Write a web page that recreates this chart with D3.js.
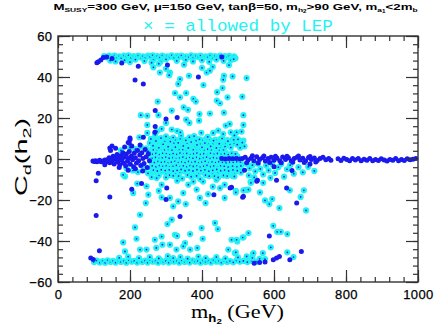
<!DOCTYPE html>
<html><head><meta charset="utf-8">
<script src="https://cdn.jsdelivr.net/npm/d3@7"></script>
<style>body{margin:0;background:#fff}svg{display:block}</style>
</head><body><svg id="c" width="437" height="332"></svg>
<script>
// ---------- DATA (m_h2 in GeV, C_d(h2)) ----------
const xTickLabels = [0, 200, 400, 600, 800, 1000];
const yTickLabels = [-60, -40, -20, 0, 20, 40, 60];

// points excluded by LEP (blue dots only)
const excludedLeft = [[97,-1],[101,-1.2],[104,-0.8],[108,-1.3],[112,-1],[116,-0.6],[120,-1.4],[126,-1],[130,-0.5],[134,-1.5],[138,-0.2],[142,0.6],[144,-1.8],[147,0.2],[150,-0.9],[153,1.4],[156,-2.4],[158,0.8],[161,-0.3],[164,2.2],[166,-1.5],[169,0.3],[172,-2.8],[174,1.6],[177,-0.6],[180,3.0],[182,-2],[185,0.9],[188,-3.3],[190,2.4],[193,-1.1],[196,0.4],[198,3.6],[201,-2.6],[204,1.5],[207,-0.4],[210,-3.8],[212,2.9],[215,0.6],[218,-1.9],[221,4.2],[224,-0.8],[227,1.9],[230,-3.2],[233,3.1],[236,0.2],[239,-2.2],[242,4.6],[245,1.1],[248,-4.1],[251,2.6],[254,-0.9],[146,4.1],[144,5.4],[150,6.3],[160,5.2],[130,-2.8],[112,-6.9],[170,-4.2],[195,-5.5],[215,-4.8],[235,-5.8],[185,5.8],[205,6.4],[228,6.8],[195,8],[200,10.2]];
const excludedBandRight = [[455,0.2],[465,0],[475,0.3],[485,0.1],[495,0.2],[505,0],[512,0.2],[520,0.9],[528,-0.5],[536,0.4],[544,-0.9],[552,1.1],[560,-0.3],[568,0.6],[576,-1.0],[584,0.2],[592,0.8],[600,-0.6],[608,0.5],[616,-0.8],[624,1.0],[632,-0.2],[640,0.6],[648,-0.9],[656,0.3],[664,0.9],[672,-0.5],[680,0.4],[688,-0.8],[696,0.7],[704,-0.2],[712,0.5],[720,-0.7],[728,0.3],[736,0.8],[744,-0.4],[752,0.2],[758,-0.6],[778,0.1],[786,-0.7],[794,0.4],[802,-0.3],[810,-0.9],[818,0.2],[826,-0.5],[834,0.3],[842,-0.8],[850,-0.1],[858,-0.6],[866,0.2],[874,-0.9],[882,-0.3],[890,-0.7],[898,0.1],[906,-0.5],[914,-1.0],[922,-0.2],[930,-0.6],[938,0.2],[946,-0.8],[954,-0.3],[962,-0.7],[970,0.1],[978,-0.4],[986,-0.1],[994,0.2],[524,-1.8],[540,1.6],[556,-1.9],[572,1.5],[588,-1.7],[604,1.4],[620,-1.8],[636,1.3],[652,-1.6],[668,1.5],[684,-1.7],[700,1.2],[716,-1.5]];
const excludedScatter = [[91,-48.3],[98,-49],[108,47.0],[112,47.5],[119,48.3],[126,49.5],[135,49.8],[150,49],[177,46.8],[223,45.2],[214,38.5],[237,36.6],[304,45.9],[390,40],[270,23.6],[300,19.5],[331,20.3],[270,15.8],[237,10.6],[200,9.5],[198,7.8],[269,13.1],[455,49.8],[106,-10.6],[144,-18.5],[106,-27.5],[115,-44.7],[205,-14.7],[232,-12],[339,-28.1],[302,-14.2],[300,-19.8],[433,-17.4],[482,-13.8],[513,-18.7],[552,-10.9],[478,-14.2],[515,-18.2],[554,-10.4],[607,-10.4],[635,-14.2],[663,-21.5],[587,-37.5],[598,-49.1],[607,-48.3],[615,-47.5],[644,-49.1],[676,-45.1],[518,-5.5],[560,-50.5],[575,-50.3],[545,-50.8],[600,-3.8],[650,-5.6],[700,-2.4]];

// points allowed by LEP (blue dot with cyan cross)
const allowedBandTop = [[128,50.2],[135,49.6],[142,50.4],[150,49.8],[157,50.5],[163,49.5],[170,50.1],[176,49.3],[183,50.4],[190,49.8],[196,50.6],[203,49.4],[210,50.2],[216,49.7],[223,50.5],[230,49.5],[236,50.1],[243,49.3],[250,50.4],[256,49.9],[263,50.6],[270,49.5],[276,50.2],[283,49.6],[290,50.5],[296,49.4],[303,50.1],[310,49.8],[316,50.6],[323,49.5],[330,50.3],[336,49.7],[343,50.5],[350,49.4],[356,50.1],[363,49.8],[370,50.6],[376,49.5],[383,50.2],[390,49.7],[396,50.4],[403,49.4],[410,50.1],[416,49.8],[423,50.5],[430,49.5],[436,50.2],[443,49.7],[450,50.4],[456,49.5],[463,50.2],[470,49.8],[476,50.3],[483,49.6],[489,50.1],[493,49.2],[145,48],[160,47.6],[185,48.2],[200,47.3],[215,48.5],[240,47.8],[265,48.3],[285,47.5],[300,48.6],[330,47.9],[355,48.4],[375,47.6],[400,48.2],[420,47.4],[440,48.5],[460,47.9],[480,48.3],[488,48.7]];
const allowedBandBottom = [[100,-50.3],[108,-49.6],[116,-50.5],[124,-49.8],[131,-50.6],[138,-49.4],[146,-50.2],[153,-49.7],[160,-50.5],[168,-49.5],[175,-50.2],[183,-49.8],[190,-50.6],[197,-49.4],[205,-50.1],[212,-49.7],[220,-50.5],[227,-49.5],[234,-50.2],[242,-49.6],[249,-50.5],[256,-49.4],[264,-50.1],[271,-49.8],[278,-50.6],[286,-49.5],[293,-50.3],[300,-49.7],[308,-50.5],[315,-49.4],[322,-50.1],[330,-49.8],[337,-50.6],[344,-49.5],[352,-50.2],[359,-49.7],[366,-50.5],[374,-49.4],[381,-50.1],[388,-49.8],[396,-50.6],[403,-49.5],[410,-50.2],[418,-49.7],[425,-50.5],[432,-49.4],[440,-50.1],[447,-49.8],[454,-50.5],[462,-49.6],[470,-50.2],[478,-49.8],[487,-50.4],[496,-49.5],[505,-50.1],[515,-49.7],[526,-50.3],[538,-49.6],[550,-50.1],[170,-48.2],[195,-47.6],[225,-48.4],[255,-47.9],[280,-48.5],[305,-47.4],[320,-48.3],[340,-47.8],[360,-48.6],[390,-47.6],[410,-48.4],[440,-47.8],[465,-48.5],[500,-48],[540,-48.2],[560,-48.7]];
const allowedCloud = [[262,5.2],[270,5.9],[281,5.0],[290,5.7],[301,5.3],[309,6.0],[320,5.1],[331,5.6],[340,5.4],[352,5.9],[360,5.0],[371,5.5],[380,5.8],[392,5.2],[401,5.6],[412,5.0],[420,5.4],[431,5.8],[442,5.1],[450,5.5],
[258,3.2],[267,3.8],[276,3.4],[286,3.9],[295,3.1],[304,3.6],[314,3.3],[323,3.8],[333,3.5],[342,3.0],[351,3.7],[361,3.4],[370,3.9],[379,3.2],[389,3.6],[398,3.3],[407,3.8],[417,3.1],[426,3.5],[436,3.2],[445,3.6],[455,3.0],[466,3.3],
[260,1.4],[269,1.8],[279,1.2],[288,1.7],[297,1.3],[307,1.9],[316,1.5],[326,1.1],[335,1.6],[344,1.3],[354,1.8],[363,1.4],[373,1.0],[382,1.6],[391,1.2],[401,1.7],[410,1.4],[420,1.9],[429,1.3],[439,1.6],[448,1.5],[458,1.2],[468,1.7],[478,1.4],[488,1.6],[498,1.3],
[257,-0.4],[266,-0.8],[275,-0.2],[285,-0.6],[294,-0.3],[303,-0.9],[313,-0.5],[322,-0.1],[332,-0.7],[341,-0.4],[350,-0.8],[360,-0.3],[369,-0.6],[378,-0.2],[388,-0.7],[397,-0.5],[406,-0.9],[416,-0.4],[425,-0.6],[434,-0.3],[444,-0.8],[453,-0.5],[463,-1.0],[472,-0.6],[482,-1.1],[492,-0.7],[502,-0.9],
[261,-2.3],[270,-2.8],[280,-2.1],[289,-2.6],[299,-2.4],[308,-2.9],[317,-2.2],[327,-2.7],[336,-2.5],[346,-2.1],[355,-2.8],[364,-2.3],[374,-2.6],[383,-2.2],[393,-2.9],[402,-2.4],[411,-2.7],[421,-2.3],[430,-2.8],[440,-2.5],[449,-2.2],[459,-2.9],[469,-2.6],[479,-3.0],[490,-2.7],[500,-3.2],[510,-2.9],
[259,-4.4],[268,-4.9],[278,-4.2],[287,-4.7],[296,-4.3],[306,-4.8],[315,-4.5],[325,-4.1],[334,-4.6],[344,-4.3],[353,-4.9],[362,-4.4],[372,-4.7],[381,-4.2],[390,-4.8],[400,-4.5],[409,-4.1],[419,-4.6],[428,-4.9],[438,-4.3],[447,-4.7],[457,-4.4],[468,-5.0],[480,-4.6],[492,-5.2],[505,-4.8],
[263,-6.4],[275,-6.9],[288,-6.2],[300,-6.7],[312,-6.3],[326,-7.0],[338,-6.5],[350,-6.1],[364,-6.8],[378,-6.4],[390,-7.1],[404,-6.6],[418,-6.2],[430,-6.9],[445,-6.5],[460,-7.2],[475,-6.7],[490,-7.0],[508,-6.6],
[200,5.5],[215,4.8],[230,6],[245,5.2],[190,-4.5],[208,-5.6],[222,-6.4],[240,-5.2],[250,-7],[175,4.2],[235,-3.5],[250,3.8]];
const allowedCloudFill = [[265,4.5],[275,4.2],[285,4.8],[296,4.4],[306,4.7],[317,4.3],[327,4.9],[337,4.4],[347,4.6],[357,4.2],[367,4.8],[376,4.5],[386,4.1],[396,4.7],[406,4.4],[416,4.8],[426,4.3],[437,4.6],[447,4.2],[460,4.5],
[263,2.4],[272,2.7],[282,2.2],[291,2.8],[301,2.5],[311,2.1],[320,2.6],[330,2.3],[339,2.9],[349,2.4],[358,2.7],[368,2.2],[377,2.6],[386,2.9],[396,2.3],[405,2.6],[415,2.2],[424,2.8],[434,2.4],[443,2.7],[453,2.3],[463,2.6],[473,2.2],[483,2.8],[493,2.5],
[262,0.4],[271,0.8],[281,0.3],[290,0.6],[300,0.9],[309,0.4],[319,0.7],[328,0.2],[338,0.6],[347,0.9],[357,0.3],[366,0.7],[375,0.4],[385,0.8],[394,0.2],[404,0.6],[413,0.9],[423,0.3],[432,0.7],[442,0.4],[451,0.8],
[259,-1.4],[268,-1.8],[278,-1.2],[287,-1.6],[297,-1.3],[306,-1.9],[315,-1.5],[325,-1.1],[334,-1.7],[344,-1.4],[353,-1.8],[363,-1.2],[372,-1.6],[381,-1.3],[391,-1.9],[400,-1.5],[409,-1.1],[419,-1.7],[428,-1.4],[438,-1.8],[447,-1.3],[457,-1.6],[467,-1.9],[477,-1.5],[487,-1.8],[497,-1.4],[507,-1.7],
[262,-3.4],[272,-3.8],[282,-3.2],[291,-3.6],[301,-3.3],[310,-3.9],[320,-3.5],[329,-3.1],[339,-3.7],[348,-3.4],[358,-3.8],[367,-3.2],[376,-3.6],[386,-3.3],[395,-3.9],[405,-3.5],[414,-3.1],[424,-3.7],[433,-3.4],[443,-3.8],[452,-3.3],[462,-3.6],[473,-3.9],[485,-3.5],[497,-3.8],[508,-3.4],
[265,-5.4],[276,-5.8],[287,-5.2],[298,-5.6],[309,-5.3],[320,-5.9],[331,-5.5],[342,-5.1],[353,-5.7],[364,-5.4],[375,-5.8],[386,-5.2],[397,-5.6],[408,-5.3],[419,-5.9],[430,-5.5],[441,-5.1],[452,-5.7],[463,-5.4],[474,-5.8],[486,-5.3],[498,-5.7],
[262,7.3],[274,7.8],[286,7.2],[298,7.6],[310,7.4],[322,7.9],[334,7.1],[346,7.5],[358,7.8],[370,7.2],[382,7.6],[394,7.3],[406,7.8],[418,7.1],[430,7.5],[442,7.9],[454,7.2],[466,7.6],[478,7.3],[490,7.7],[504,7.2],
[268,9.3],[282,9.8],[296,9.2],[310,9.6],[326,9.4],[340,9.9],[352,9.1],[368,9.5],[384,9.8],[400,9.2],[420,9.6],[438,9.3],[452,9.8],[470,9.2],[500,9.6],
[280,-8.1],[310,-7.9],[335,-8.3],[360,-7.8],[385,-8.2],[410,-7.9],[435,-8.4],[460,-8],[485,-8.3]];
const allowedScatter = [[265,44.7],[283,42.2],[311,42.2],[309,40.9],[339,39],[334,36.6],[364,40.6],[413,42.2],[422,43.1],[404,36.1],[461,40.6],[459,38.7],[485,40.3],[524,39.5],[475,45.8],[325,32.2],[339,30.1],[356,32.2],[376,29.3],[383,28],[441,28.5],[450,27.2],[442,32.6],[457,34.6],[471,30.1],[512,30.4],[277,28],[316,23.6],[230,21.4],[248,21.1],[279,21.4],[349,25.2],[361,24],[356,19.2],[365,17.6],[393,21.9],[392,18.7],[422,22.2],[461,22.6],[515,21.4],[248,16.6],[300,17.6],[288,14.7],[316,14.4],[331,13.6],[248,12.7],[270,11.8],[226,10.6],[466,16.3],[477,17.1],[515,16.6],[431,12.7],[459,12.2],[496,13],[365,10.6],[384,9],[413,10.1],[515,9],[255,7.8],[296,8.5],[510,13.4],[518,6.2],[400,44.5],[300,44],[280,46.5],[350,46],[430,45],[260,47],[480,13],[485,9.5],[478,7],
[258,9.8],[264,6.5],[272,8.8],[280,5.5],[286,10.2],[292,7.2],[300,11],[306,6],[312,8.5],[320,10.5],[326,5.8],[334,7.9],[342,11.5],[348,6.4],[355,9.1],[362,5.4],[370,8.3],[378,11.2],[386,6.9],[393,9.6],[400,5.7],[408,7.8],[416,10.8],[424,6.2],[432,9],[440,5.4],[448,7.5],[456,10],[464,6.1],[472,8.7],[480,5.6],[488,9.4],[498,7],[506,5.5],[512,8],[275,13.5],[340,13],[398,12.8],[445,13.9],[490,11.5],
[274,-9.3],[288,-12.5],[311,-19],[334,-20.7],[348,-16.6],[362,-12.5],[385,-14.9],[394,-19],[403,-11],[417,-17.1],[440,-10.1],[450,-14.2],[463,-19],[463,-12.5],[490,-8.5],[494,-15.5],[522,-15.1],[535,-11.2],[251,-17.4],[246,-13.3],[320,-23.1],[288,-18.7],[331,-10.6],[228,-27.2],[214,-33.4],[244,-21.5],[220,-12],[209,-16.6],[186,-8.5],[181,-7.7],[494,-16.3],[515,-15.3],[529,-14.9],[536,-11.6],[561,-16.3],[575,-20.2],[587,-22],[595,-19.5],[615,-23.9],[644,-15.3],[683,-15.3],[674,-18.5],[689,-25.1],[570,-11.6],[300,-9],[320,-8.2],[345,-9.5],[370,-8.6],[395,-9.8],[420,-8.4],[445,-9],[470,-8.3],[260,-8.8],[355,-22],[410,-21.5],[430,-13.5],[280,-15.5],[376,-11],
[525,-2.5],[532,-4.5],[540,-3],[548,-6],[555,-2.3],[562,-4.8],[570,-7.5],[578,-3.2],[585,-5.5],[595,-2.6],[603,-6.8],[612,-4],[620,-2.4],[628,-8.6],[636,-5],[645,-3],[655,-7.2],[668,-4],[680,-6.5],[695,-3.8],[712,-5.8],[530,-8],[545,-9],[590,-9.2],
[304,-31.7],[316,-29.6],[269,-39.4],[288,-37.8],[290,-41.8],[311,-41.8],[325,-37],[331,-37.5],[367,-36.6],[353,-41],[399,-33.7],[402,-38.9],[387,-43.4],[436,-31.2],[444,-34.2],[482,-39.4],[498,-40.2],[515,-38.2],[529,-36.1],[473,-44.2],[491,-45.9],[541,-46.4],[186,-45.1],[228,-44.2],[246,-44.2],[273,-43.4],[329,-44.2],[367,-44.2],[348,-42.6],[181,-40.7],[218,-38.9],[598,-32.6],[609,-35.5],[619,-35.5],[637,-36.6],[513,-38.3],[496,-39.4],[591,-43.1],[569,-45.9],[543,-45.9],[637,-45.5],[654,-47.8],[575,-48.8],[524,-47.5],[494,-45.5]];

// ---------- DRAWING ----------
const svg = d3.select("#c");
const x = d3.scaleLinear().domain([0, 1000]).range([58, 418]);
const y = d3.scaleLinear().domain([-60, 60]).range([282, 36]);
const BLUE = "#1a1aee", CYAN = "#22f2f2";

const allowed = [].concat(allowedBandTop, allowedBandBottom, allowedCloud, allowedCloudFill, allowedScatter);
const excluded = [].concat(excludedLeft, excludedBandRight, excludedScatter);

const pts = svg.append("g");
// allowed: cyan blob (cross over dot) with blue centre
const ag = pts.append("g").selectAll("g").data(allowed).join("g")
  .attr("transform", d => `translate(${x(d[0])},${y(d[1])})`);
ag.append("circle").attr("r", 3.1).attr("fill", CYAN);
ag.append("circle").attr("r", 0.85).attr("fill", BLUE);
// excluded: blue dots
pts.append("g").selectAll("circle").data(excluded).join("circle")
  .attr("cx", d => x(d[0])).attr("cy", d => y(d[1])).attr("r", 2.5).attr("fill", BLUE);

// ticks
const xMinor = d3.range(0, 1001, 40), yMinor = d3.range(-60, 61, 4);
const AX = "#333";
function style(g){ g.select(".domain").remove(); g.selectAll("line").attr("stroke", AX).attr("stroke-width", 1.2); }
const B = y(-60), T = y(60), L = x(0), R = x(1000);
svg.append("g").attr("transform",`translate(0,${B})`).call(d3.axisBottom(x).tickValues(xMinor).tickSize(-5).tickFormat("")).call(style);
svg.append("g").attr("transform",`translate(0,${T})`).call(d3.axisTop(x).tickValues(xMinor).tickSize(-5).tickFormat("")).call(style);
svg.append("g").attr("transform",`translate(${L},0)`).call(d3.axisLeft(y).tickValues(yMinor).tickSize(-5).tickFormat("")).call(style);
svg.append("g").attr("transform",`translate(${R},0)`).call(d3.axisRight(y).tickValues(yMinor).tickSize(-5).tickFormat("")).call(style);
svg.append("g").attr("transform",`translate(0,${T})`).call(d3.axisTop(x).tickValues(xTickLabels).tickSize(-12).tickFormat("")).call(style);
svg.append("g").attr("transform",`translate(${R},0)`).call(d3.axisRight(y).tickValues(yTickLabels).tickSize(-12).tickFormat("")).call(style);
const xb = svg.append("g").attr("transform",`translate(0,${B})`).call(d3.axisBottom(x).tickValues(xTickLabels).tickSize(-12).tickPadding(8).tickFormat(d3.format("d"))).call(style);
const yl = svg.append("g").attr("transform",`translate(${L},0)`).call(d3.axisLeft(y).tickValues(yTickLabels).tickSize(-12).tickPadding(5.5).tickFormat(d => d < 0 ? "\u2212" + (-d) : d)).call(style);
[xb, yl].forEach(g => g.selectAll("text").attr("fill", "#000").attr("font-family", "'Liberation Sans', Arial, sans-serif").attr("font-size", 13).attr("letter-spacing", 0.4).attr("stroke", "#000").attr("stroke-width", 0.25));

svg.append("rect").attr("x", L).attr("y", T).attr("width", R - L).attr("height", B - T)
  .attr("fill", "none").attr("stroke", AX).attr("stroke-width", 1.4);

// text helper: stretch text to span [left,right]
function fit(t, left, right, base){
  const w = t.node().getBBox().width;
  t.attr("text-anchor", "middle").attr("x", 0).attr("y", 0)
   .attr("transform", `translate(${(left + right) / 2},${base}) scale(${(right - left) / w},1)`);
}
// title line 1
const t1 = svg.append("text").attr("font-family", "'Liberation Sans', Arial, sans-serif").attr("font-size", 9.5).attr("font-weight", "bold").attr("fill", "#000");
t1.append("tspan").text("M");
t1.append("tspan").attr("font-size", 6).attr("dy", 2).text("SUSY");
t1.append("tspan").attr("dy", -2).text("=300 GeV, \u03bc=150 GeV, tan\u03b2=50, m");
t1.append("tspan").attr("font-size", 6).attr("dy", 2).text("h");
t1.append("tspan").attr("font-size", 4.5).attr("dy", 1).text("2");
t1.append("tspan").attr("dy", -3).text(">90 GeV, m");
t1.append("tspan").attr("font-size", 6).attr("dy", 2).text("a");
t1.append("tspan").attr("font-size", 4.5).attr("dy", 1).text("1");
t1.append("tspan").attr("dy", -3).text("<2m");
t1.append("tspan").attr("font-size", 6).attr("dy", 2).text("b");
fit(t1, 53, 418, 10);
// title line 2
const t2 = svg.append("text").attr("font-family", "'Liberation Mono', 'DejaVu Sans Mono', monospace").attr("font-size", 16).attr("fill", CYAN)
  .text("\u00d7 = allowed by LEP");
fit(t2, 143, 333, 30.5);

// x label
const xl = svg.append("text").attr("font-family", "'Liberation Serif', 'Times New Roman', serif").attr("font-size", 18.5).attr("fill", "#000");
xl.append("tspan").text("m");
xl.append("tspan").attr("font-size", 11).attr("dy", 4).attr("font-family", "'Liberation Sans', Arial, sans-serif").attr("font-weight", "bold").text("h");
xl.append("tspan").attr("font-size", 8).attr("dy", 2).attr("font-family", "'Liberation Sans', Arial, sans-serif").attr("font-weight", "bold").text("2");
xl.append("tspan").attr("dy", -6).text("\u00a0(GeV)");
fit(xl, 191, 284, 318);

// y label (rotated)
const ylab = svg.append("g").attr("transform", "translate(27,157) rotate(-90)");
const yt = ylab.append("text").attr("font-family", "'Liberation Sans', Arial, sans-serif").attr("font-size", 16).attr("fill", "#000");
yt.append("tspan").text("C");
yt.append("tspan").attr("font-size", 11).attr("dy", 4).text("d");
yt.append("tspan").attr("dy", -4).text("(h");
yt.append("tspan").attr("font-size", 11).attr("dy", 4).text("2");
yt.append("tspan").attr("dy", -4).text(")");
fit(yt, -39, 39, 0);
</script>
</body></html>
